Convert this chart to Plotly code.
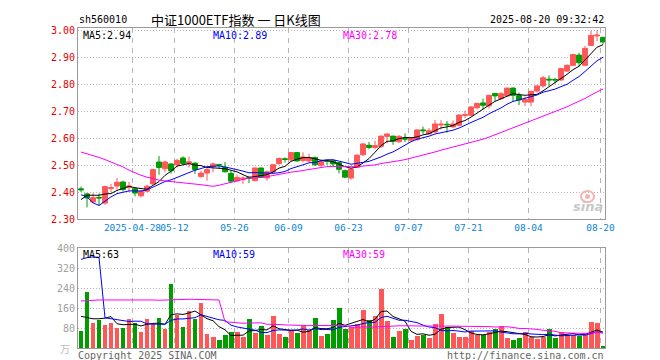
import plotly.graph_objects as go

# ---------------- data ----------------
dates = ["2025-04-15", "2025-04-16", "2025-04-17", "2025-04-18", "2025-04-21", "2025-04-22", "2025-04-23",
         "2025-04-24", "2025-04-25", "2025-04-28", "2025-04-29", "2025-04-30", "2025-05-06", "2025-05-07",
         "2025-05-08", "2025-05-09", "2025-05-12", "2025-05-13", "2025-05-14", "2025-05-15", "2025-05-16",
         "2025-05-19", "2025-05-20", "2025-05-21", "2025-05-22", "2025-05-23", "2025-05-26", "2025-05-27",
         "2025-05-28", "2025-05-29", "2025-05-30", "2025-06-03", "2025-06-04", "2025-06-05", "2025-06-06",
         "2025-06-09", "2025-06-10", "2025-06-11", "2025-06-12", "2025-06-13", "2025-06-16", "2025-06-17",
         "2025-06-18", "2025-06-19", "2025-06-20", "2025-06-23", "2025-06-24", "2025-06-25", "2025-06-26",
         "2025-06-27", "2025-06-30", "2025-07-01", "2025-07-02", "2025-07-03", "2025-07-04", "2025-07-07",
         "2025-07-08", "2025-07-09", "2025-07-10", "2025-07-11", "2025-07-14", "2025-07-15", "2025-07-16",
         "2025-07-17", "2025-07-18", "2025-07-21", "2025-07-22", "2025-07-23", "2025-07-24", "2025-07-25",
         "2025-07-28", "2025-07-29", "2025-07-30", "2025-07-31", "2025-08-01", "2025-08-04", "2025-08-05",
         "2025-08-06", "2025-08-07", "2025-08-08", "2025-08-11", "2025-08-12", "2025-08-13", "2025-08-14",
         "2025-08-15", "2025-08-18", "2025-08-19", "2025-08-20"]

opens = [2.412, 2.393, 2.363, 2.380, 2.359, 2.413, 2.422, 2.437, 2.418, 2.412,
         2.386, 2.403, 2.430, 2.511, 2.486, 2.504, 2.501, 2.526, 2.506, 2.507,
         2.457, 2.470, 2.494, 2.502, 2.491, 2.469, 2.442, 2.447, 2.453, 2.442,
         2.489, 2.452, 2.474, 2.505, 2.523, 2.519, 2.546, 2.517, 2.515, 2.528,
         2.499, 2.514, 2.516, 2.509, 2.479, 2.452, 2.491, 2.538, 2.573, 2.565,
         2.569, 2.606, 2.607, 2.586, 2.598, 2.592, 2.594, 2.630, 2.615, 2.622,
         2.648, 2.651, 2.641, 2.647, 2.683, 2.684, 2.712, 2.730, 2.719, 2.765,
         2.746, 2.756, 2.785, 2.758, 2.733, 2.733, 2.774, 2.793, 2.818, 2.817,
         2.815, 2.848, 2.869, 2.907, 2.869, 2.943, 2.978, 2.973]
highs = [2.420, 2.396, 2.396, 2.395, 2.421, 2.430, 2.452, 2.442, 2.437, 2.417,
         2.408, 2.427, 2.486, 2.533, 2.516, 2.506, 2.523, 2.532, 2.531, 2.510,
         2.479, 2.491, 2.509, 2.504, 2.511, 2.480, 2.464, 2.458, 2.460, 2.490,
         2.490, 2.479, 2.504, 2.528, 2.528, 2.548, 2.548, 2.547, 2.541, 2.531,
         2.519, 2.519, 2.519, 2.511, 2.483, 2.487, 2.541, 2.581, 2.585, 2.590,
         2.609, 2.616, 2.608, 2.611, 2.617, 2.602, 2.632, 2.642, 2.637, 2.667,
         2.666, 2.663, 2.665, 2.689, 2.701, 2.718, 2.731, 2.746, 2.760, 2.766,
         2.770, 2.786, 2.787, 2.768, 2.753, 2.774, 2.795, 2.830, 2.832, 2.823,
         2.860, 2.873, 2.912, 2.916, 2.941, 2.998, 2.998, 2.973]
lows = [2.400, 2.343, 2.358, 2.350, 2.353, 2.400, 2.409, 2.402, 2.400, 2.384,
        2.380, 2.399, 2.427, 2.464, 2.473, 2.468, 2.491, 2.501, 2.491, 2.467,
        2.454, 2.442, 2.473, 2.487, 2.472, 2.433, 2.437, 2.430, 2.433, 2.440,
        2.452, 2.442, 2.470, 2.501, 2.509, 2.515, 2.512, 2.510, 2.511, 2.496,
        2.494, 2.500, 2.496, 2.469, 2.452, 2.445, 2.489, 2.533, 2.558, 2.558,
        2.563, 2.580, 2.575, 2.582, 2.585, 2.587, 2.590, 2.615, 2.613, 2.618,
        2.632, 2.620, 2.638, 2.644, 2.674, 2.682, 2.706, 2.706, 2.709, 2.737,
        2.741, 2.753, 2.735, 2.722, 2.718, 2.718, 2.768, 2.786, 2.793, 2.802,
        2.811, 2.844, 2.867, 2.864, 2.867, 2.941, 2.959, 2.947]
closes = [2.408, 2.378, 2.379, 2.378, 2.420, 2.416, 2.436, 2.409, 2.422, 2.396,
          2.402, 2.421, 2.483, 2.491, 2.511, 2.479, 2.517, 2.506, 2.512, 2.483,
          2.470, 2.483, 2.504, 2.500, 2.475, 2.440, 2.454, 2.452, 2.451, 2.489,
          2.454, 2.475, 2.501, 2.524, 2.521, 2.546, 2.515, 2.530, 2.528, 2.501,
          2.514, 2.513, 2.504, 2.484, 2.455, 2.485, 2.536, 2.578, 2.565, 2.572,
          2.607, 2.615, 2.588, 2.606, 2.596, 2.599, 2.630, 2.627, 2.627, 2.652,
          2.651, 2.649, 2.652, 2.685, 2.686, 2.715, 2.728, 2.721, 2.758, 2.756,
          2.764, 2.785, 2.758, 2.741, 2.743, 2.773, 2.793, 2.823, 2.815, 2.815,
          2.857, 2.869, 2.909, 2.879, 2.932, 2.980, 2.981, 2.956]
# volume, unit: 万 (10k shares)
volumes = [69, 226, 101, 114, 93, 101, 81, 81, 117, 101,
           65, 117, 97, 121, 78, 259, 135, 85, 151, 117,
           182, 57, 44, 32, 53, 65, 65, 44, 117, 61,
           89, 53, 129, 57, 44, 69, 61, 89, 73, 121,
           48, 57, 113, 162, 78, 84, 97, 155, 114, 129,
           240, 110, 44, 70, 78, 34, 50, 54, 42, 97,
           137, 84, 61, 44, 44, 70, 54, 54, 65, 78,
           90, 42, 34, 42, 65, 44, 36, 44, 78, 42,
           65, 54, 54, 50, 54, 105, 101, 8]

# moving-average values at the start of the window (they depend on earlier sessions)
ma5_head = [2.372, 2.388, 2.388, 2.388]
ma10_head = [2.390, 2.382, 2.360, 2.350, 2.366, 2.382, 2.394, 2.400, 2.404]
ma30_head = [2.548, 2.542, 2.535, 2.528, 2.520, 2.511, 2.502, 2.493, 2.481, 2.470,
             2.462, 2.455, 2.449, 2.444, 2.441, 2.439, 2.437, 2.434, 2.432, 2.430,
             2.427, 2.424, 2.421, 2.425, 2.430, 2.436, 2.442, 2.447, 2.452]
vol_ma5_head = [128, 124, 118, 118]
vol_ma10_head = [358, 365, 368, 366, 122, 118, 114, 110, 107]
vol_ma30_head = [190, 192, 194, 194, 194, 194, 195, 196, 197, 196,
                 195, 194, 194, 193, 193, 194, 195, 196, 197, 197,
                 197, 197, 196, 194, 106, 104, 102, 100, 101]

tick_dates = ["2025-04-28", "2025-05-12", "2025-05-26", "2025-06-09", "2025-06-23",
              "2025-07-07", "2025-07-21", "2025-08-04", "2025-08-20"]
tick_labels = ["2025-04-28", "05-12", "05-26", "06-09", "06-23", "07-07", "07-21", "08-04", "08-20"]
price_ticks = [2.30, 2.40, 2.50, 2.60, 2.70, 2.80, 2.90, 3.00]
vol_ticks = [80, 160, 240, 320, 400]

ma_labels_price = ["MA5:2.94", "MA10:2.89", "MA30:2.78"]
ma_labels_vol = ["MA5:63", "MA10:59", "MA30:59"]


def moving(values, n, head):
    return head + [sum(values[i - n + 1:i + 1]) / n for i in range(n - 1, len(values))]


# ---------------- styling ----------------
W, H = 660, 360
RED = "#ff5757"
GREEN = "#009c00"
MONO = "DejaVu Sans Mono"
GRID = "#b4b4b4"
BORDER = "#9a9a9a"
MA_COLORS = ["#000000", "#0000ff", "#ff00ff"]

xs = list(range(len(dates)))
tick_pos = [dates.index(d) - 0.42 for d in tick_dates]


def px(x):
    return x / W


def py(y):
    return 1 - y / H


fig = go.Figure()

fig.add_trace(go.Candlestick(
    x=xs, open=opens, high=highs, low=lows, close=closes,
    increasing=dict(line=dict(color=RED, width=1), fillcolor=RED),
    decreasing=dict(line=dict(color=GREEN, width=1), fillcolor=GREEN),
    whiskerwidth=0, hoverinfo="skip", showlegend=False, xaxis="x", yaxis="y"))

for vals, col in zip([moving(closes, 5, ma5_head), moving(closes, 10, ma10_head),
                      moving(closes, 30, ma30_head)], MA_COLORS):
    fig.add_trace(go.Scatter(x=xs, y=vals, mode="lines", line=dict(color=col, width=1),
                             hoverinfo="skip", showlegend=False, xaxis="x", yaxis="y"))

vol_colors = [RED if c >= o else GREEN for o, c in zip(opens, closes)]
fig.add_trace(go.Bar(x=xs, y=volumes, width=0.83, marker=dict(color=vol_colors, line=dict(width=0)),
                     hoverinfo="skip", showlegend=False, xaxis="x2", yaxis="y2"))

for vals, col in zip([moving(volumes, 5, vol_ma5_head), moving(volumes, 10, vol_ma10_head),
                      moving(volumes, 30, vol_ma30_head)], MA_COLORS):
    fig.add_trace(go.Scatter(x=xs, y=vals, mode="lines", line=dict(color=col, width=1),
                             hoverinfo="skip", showlegend=False, xaxis="x2", yaxis="y2"))

xdom = [px(70), px(597)]
xrange = [-0.5, 87.33]
common_x = dict(domain=xdom, range=xrange, tickvals=tick_pos, showgrid=True, gridcolor=GRID,
                griddash="5px,5px", gridwidth=1, zeroline=False, showline=True, linecolor=BORDER,
                linewidth=1, mirror=True, ticks="", automargin=False, fixedrange=True, tickangle=0)

annotations = []


def ann(text, x, y, color="#000", size=10, xanchor="left", family=MONO, **kw):
    annotations.append(dict(text=text, x=px(x), y=py(y), xref="paper", yref="paper",
                            xanchor=xanchor, yanchor="middle", showarrow=False,
                            font=dict(family=family, size=size, color=color), **kw))


ann("sh560010", 69, 12)
ann("中证1000ETF指数 一 日K线图", 141, 12, size=13, family="Noto Sans CJK SC")
ann("2025-08-20 09:32:42", 598, 12, xanchor="right")
for lab, x0, col in zip(ma_labels_price, [73, 203, 333], MA_COLORS):
    ann(lab, x0, 27.5, color=col)
for lab, x0, col in zip(ma_labels_vol, [73, 203, 333], MA_COLORS):
    ann(lab, x0, 246, color=col)
ann("万", 64, 340, color="#bbbbbb", size=10, xanchor="right", family="Noto Sans CJK SC")
ann("Copyright 2025 SINA.COM", 68, 347, color="#666666")
ann("http://finance.sina.com.cn", 598, 347, color="#666666", xanchor="right")
ann("<b><i>sina</i></b>", 597, 198, color="#c8c8c8", size=13, xanchor="right", family="DejaVu Sans")

shapes = [
    dict(type="circle", xref="paper", yref="paper", x0=px(573), x1=px(586), y0=py(194), y1=py(183),
         line=dict(color="#f4b4b4", width=2), fillcolor="rgba(0,0,0,0)"),
    dict(type="circle", xref="paper", yref="paper", x0=px(577), x1=px(582), y0=py(191), y1=py(186),
         line=dict(width=0), fillcolor="#f4b4b4"),
]

fig.update_layout(
    width=W, height=H, margin=dict(l=0, r=0, t=0, b=0),
    paper_bgcolor="white", plot_bgcolor="white", template="none",
    showlegend=False, bargap=0, boxgap=0.1, boxgroupgap=0.1,
    xaxis=dict(**common_x, anchor="y", ticktext=tick_labels, showticklabels=True,
               tickfont=dict(family=MONO, size=9.5, color="#0a84d4"),
               rangeslider=dict(visible=False)),
    xaxis2=dict(**common_x, anchor="y2", matches="x", showticklabels=False),
    yaxis=dict(domain=[py(211), py(20)], range=[2.30, 3.0074], tickvals=price_ticks,
               ticktext=[f"{v:.2f}" for v in price_ticks],
               tickfont=dict(family=MONO, size=10, color="#e60000"),
               showgrid=True, gridcolor=GRID, griddash="1px,2px", zeroline=False,
               showline=True, linecolor=BORDER, mirror=True, ticks="", automargin=False,
               fixedrange=True, anchor="x"),
    yaxis2=dict(domain=[py(340), py(240)], range=[0, 404], tickvals=vol_ticks,
                ticktext=[str(v) for v in vol_ticks],
                tickfont=dict(family=MONO, size=10, color="#a0a0a0"),
                showgrid=True, gridcolor=GRID, griddash="1px,2px", zeroline=False,
                showline=True, linecolor=BORDER, mirror=True, ticks="", automargin=False,
                fixedrange=True, anchor="x2"),
    annotations=annotations, shapes=shapes,
)

fig.write_html("out.html")
